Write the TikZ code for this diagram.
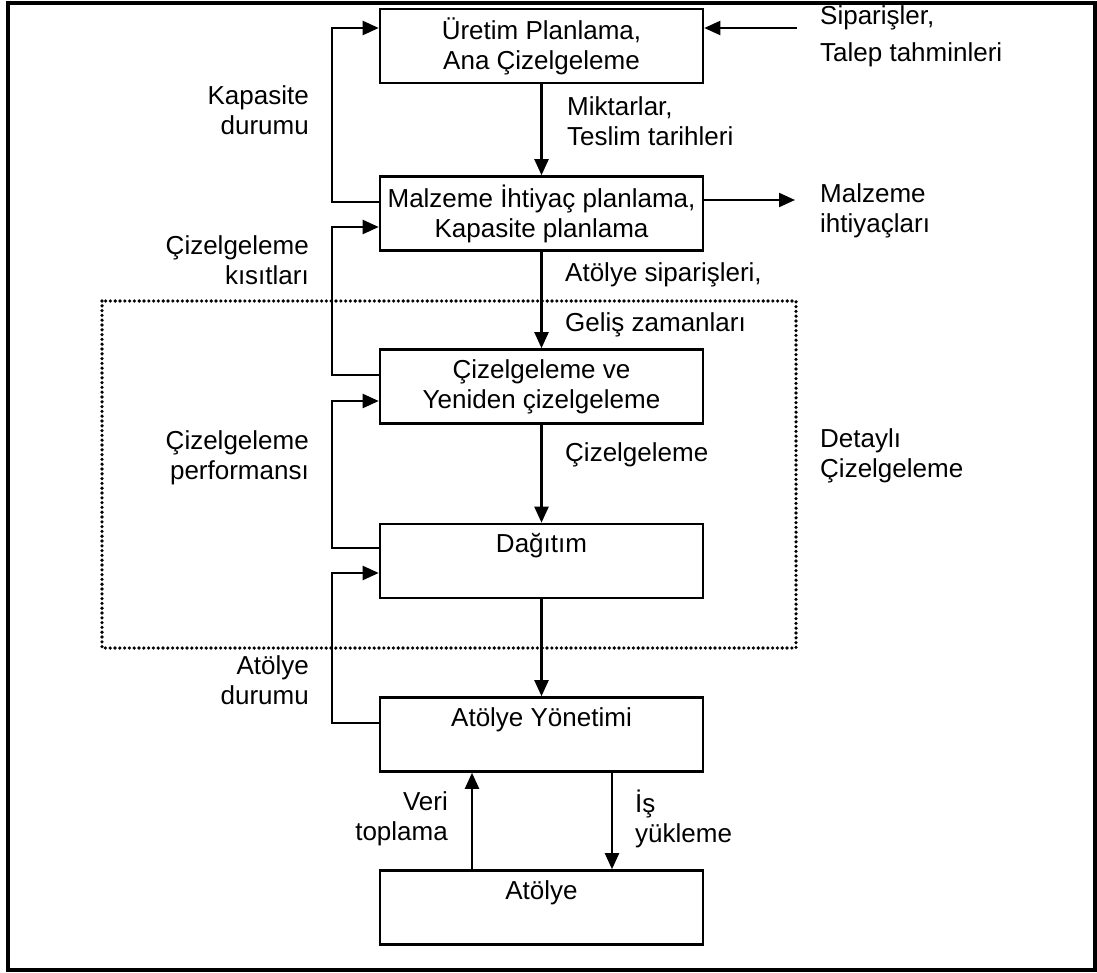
\documentclass[tikz,border=0pt]{standalone}
\usepackage{fontspec}
\setmainfont{Liberation Sans}
\usetikzlibrary{arrows.meta}
\begin{document}
\begin{tikzpicture}[x=1pt,y=-1pt,
  box/.style={draw,line width=2.6pt,minimum width=323pt,minimum height=74pt,inner sep=0pt,align=center,font=\fontsize{26}{30}\selectfont},
  lbl/.style={inner sep=0pt,font=\fontsize{26}{30}\selectfont},
  arr/.style={line width=2.2pt,-{Triangle[length=16pt,width=14pt]}},
  frame/.style={line width=3.5pt},
  dotframe/.style={line width=3.6pt,line cap=round,dash pattern=on 0pt off 4.8pt}]
\useasboundingbox (0,0) rectangle (1097,973);
\draw[frame] (8,3) rectangle (1095,970);
\draw[dotframe] (102,301) rectangle (796,648);

% boxes
\node[box] (b1) at (541.5,46) {Üretim Planlama,\\Ana Çizelgeleme};
\node[box] (b2) at (541.5,213.5) {Malzeme İhtiyaç planlama,\\Kapasite planlama};
\node[box] (b3) at (541.5,386.5) {Çizelgeleme ve\\Yeniden çizelgeleme};
\node[box] (b4) at (541.5,561) {Dağıtım\\\vphantom{g}};
\node[box] (b5) at (541.5,734.5) {Atölye Yönetimi\\\vphantom{g}};
\node[box] (b6) at (541.5,907.5) {Atölye\\\vphantom{g}};

% vertical flow
\draw[arr] (b1.south) -- (b2.north);
\draw[arr] (b2.south) -- (b3.north);
\draw[arr] (b3.south) -- (b4.north);
\draw[arr] (b4.south) -- (b5.north);
\draw[arr] ([xshift=-69.5pt]b6.north) -- ([xshift=-69.5pt]b5.south);
\draw[arr] ([xshift=70.5pt]b5.south) -- ([xshift=70.5pt]b6.north);

% feedback loops
\draw[arr] ([yshift=11.5pt]b2.west) -- ++(-47,0) |- ([yshift=18pt]b1.west);
\draw[arr] ([yshift=11.5pt]b3.west) -- ++(-47,0) |- ([yshift=-13.5pt]b2.west);
\draw[arr] ([yshift=13pt]b4.west) -- ++(-47,0) |- ([yshift=-14.5pt]b3.west);
\draw[arr] ([yshift=11.5pt]b5.west) -- ++(-47,0) |- ([yshift=-12pt]b4.west);

% right side
\coordinate (sip) at (797,28);
\coordinate (mal) at (795,200);
\draw[arr] (sip) -- ([yshift=18pt]b1.east);
\draw[arr] ([yshift=13.5pt]b2.east) -- (mal);

% labels
\node[lbl,align=right,anchor=east] (lkap) at (309,110) {Kapasite\\durumu};
\node[lbl,align=right,anchor=east] (lkis) at (309,260) {Çizelgeleme\\kısıtları};
\node[lbl,align=right,anchor=east] (lper) at (309,457.5) {Çizelgeleme\\performansı};
\node[lbl,align=right,anchor=east] (ldur) at (309,680.5) {Atölye\\durumu};
\node[lbl,align=left,anchor=west] (lsip) at (820,36.5) {Siparişler,\\[7pt]Talep tahminleri};
\node[lbl,align=left,anchor=west] (lmal) at (820,211) {Malzeme\\ihtiyaçları};
\node[lbl,align=left,anchor=west] (ldet) at (820,456) {Detaylı\\Çizelgeleme};
\node[lbl,align=left,anchor=west] (lmik) at (567,121.5) {Miktarlar,\\Teslim tarihleri};
\node[lbl,anchor=west] (lato) at (565,275) {Atölye siparişleri,};
\node[lbl,anchor=west] (lgel) at (565,325) {Geliş zamanları};
\node[lbl,anchor=west] (lciz) at (565,455) {Çizelgeleme};
\node[lbl,align=right,anchor=east] (lver) at (448,819) {Veri\\toplama};
\node[lbl,align=left,anchor=west] (lis) at (635,819) {İş\\yükleme};
\end{tikzpicture}
\end{document}
